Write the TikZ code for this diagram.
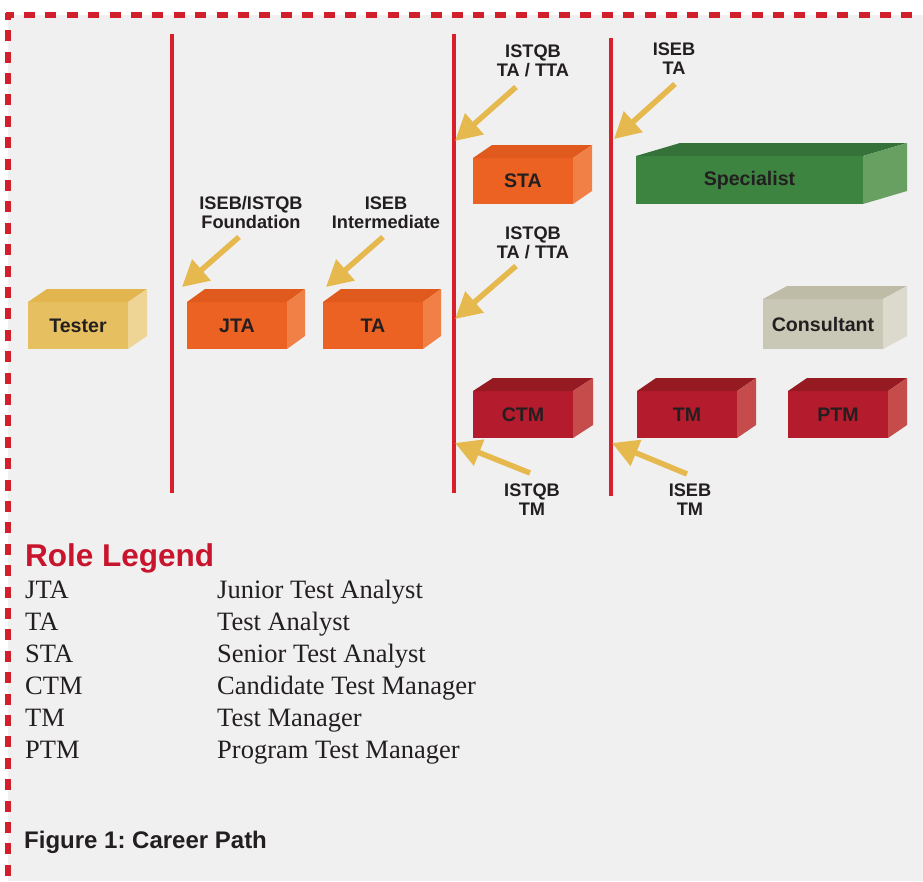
\documentclass[tikz,border=0pt]{standalone}
\usepackage{fontspec}
\setmainfont{Liberation Serif}
\newfontfamily\hvfont{Liberation Sans}
\usetikzlibrary{arrows.meta}
\frenchspacing
\definecolor{bgc}{HTML}{F0F0F0}
\definecolor{txt}{HTML}{231F20}
\definecolor{bordc}{HTML}{D11F2B}
\definecolor{linec}{HTML}{D9202A}
\definecolor{arrowc}{HTML}{E6B94F}
\definecolor{titlec}{HTML}{C8142C}
\definecolor{yelF}{HTML}{E6C060}
\definecolor{yelT}{HTML}{E2B54F}
\definecolor{yelS}{HTML}{EED495}
\definecolor{orgF}{HTML}{EC6223}
\definecolor{orgT}{HTML}{E05A1E}
\definecolor{orgS}{HTML}{F08046}
\definecolor{grnF}{HTML}{3D8441}
\definecolor{grnT}{HTML}{347239}
\definecolor{grnS}{HTML}{68A062}
\definecolor{gryF}{HTML}{C9C7B5}
\definecolor{gryT}{HTML}{BEBBA6}
\definecolor{gryS}{HTML}{DBDACC}
\definecolor{redF}{HTML}{B41B2C}
\definecolor{redT}{HTML}{961A21}
\definecolor{redS}{HTML}{C54C4B}
\tikzset{
  facebox/.style={inner sep=0pt, outer sep=0pt, anchor=north west, text=txt,
    font=\hvfont\bfseries\fontsize{19.6}{21}\selectfont},
  lbl/.style={inner sep=0pt, align=center, text=txt,
    font=\hvfont\bfseries\fontsize{18.2}{19.5}\selectfont},
  redline/.style={draw=linec, line width=4.5pt},
  yarrow/.style={draw=arrowc, line width=5.5pt, -{Triangle[length=26pt,width=27pt]}},
  border/.style={draw=bordc, line width=5.5pt, dash pattern=on 11pt off 10.4pt},
  legabbr/.style={inner sep=0pt, anchor=base west, text=txt, font=\fontsize{26.5}{30}\selectfont},
}
\newcommand{\rolebox}[8]{%
  \node[facebox, fill=#7F, minimum width=#4pt, minimum height=#5pt] (#1) at (#2,#3) {#8};
  \fill[#7T] (#1.north west) -- ++(#6,-13) -- ++(#4,0) -- (#1.north east) -- cycle;
  \fill[#7S] (#1.north east) -- ++(#6,-13) -- ++(0,#5) -- (#1.south east) -- cycle;
}
\begin{document}
\begin{tikzpicture}[x=1pt,y=-1pt]
\useasboundingbox (0,0) rectangle (923,881);
\fill[white] (0,0) rectangle (923,881);
\fill[bgc] (8,15) rectangle (923,881);
\draw[border, dash phase=3.4pt] (6,15) -- (923,15);
\draw[border, dash phase=4.3pt] (8,13) -- (8,881);

% vertical red lines
\coordinate (v1t) at (172,34); \coordinate (v1b) at (172,493);
\coordinate (v2t) at (454,34); \coordinate (v2b) at (454,493);
\coordinate (v3t) at (611,38); \coordinate (v3b) at (611,496);
\draw[redline] (v1t) -- (v1b);
\draw[redline] (v2t) -- (v2b);
\draw[redline] (v3t) -- (v3b);

% boxes
\rolebox{tester}{28}{302}{100}{47}{19}{yel}{Tester}
\rolebox{jta}{187}{302}{100}{47}{18}{org}{JTA}
\rolebox{ta}{323}{302}{100}{47}{18}{org}{TA}
\rolebox{sta}{473}{158}{100}{46}{19}{org}{STA}
\rolebox{spec}{636}{156}{227}{48}{44}{grn}{Specialist}
\rolebox{cons}{763}{299}{120}{50}{24}{gry}{Consultant}
\rolebox{ctm}{473}{391}{100}{47}{20}{red}{CTM}
\rolebox{tm}{637}{391}{100}{47}{19}{red}{TM}
\rolebox{ptm}{788}{391}{100}{47}{19}{red}{PTM}

% labels
\node[lbl] (lfound) at (251,212.5) {ISEB/ISTQB\\Foundation};
\node[lbl] (linter) at (386,212.5) {ISEB\\Intermediate};
\node[lbl] (listqa) at (533,61) {ISTQB\\TA / TTA};
\node[lbl] (lisebta) at (674,58.5) {ISEB\\TA};
\node[lbl] (listqb) at (533,243) {ISTQB\\TA / TTA};
\node[lbl] (listm) at (532,499.5) {ISTQB\\TM};
\node[lbl] (lisebtm) at (690,499.5) {ISEB\\TM};

% arrows
\coordinate (a1s) at (239,237); \coordinate (a1e) at (182,287);
\coordinate (a2s) at (383,237); \coordinate (a2e) at (326,287);
\coordinate (a3s) at (516,87);  \coordinate (a3e) at (455,141);
\coordinate (a4s) at (675,84);  \coordinate (a4e) at (614,139);
\coordinate (a5s) at (516,266); \coordinate (a5e) at (455,319);
\coordinate (a6s) at (530,473); \coordinate (a6e) at (455,443);
\coordinate (a7s) at (687,474); \coordinate (a7e) at (612,443);
\draw[yarrow] (a1s) -- (a1e);
\draw[yarrow] (a2s) -- (a2e);
\draw[yarrow] (a3s) -- (a3e);
\draw[yarrow] (a4s) -- (a4e);
\draw[yarrow] (a5s) -- (a5e);
\draw[yarrow] (a6s) -- (a6e);
\draw[yarrow] (a7s) -- (a7e);

% legend
\node[inner sep=0pt, anchor=base west, text=titlec, font=\hvfont\bfseries\fontsize{31.5}{34}\selectfont] (legtitle) at (25,566) {Role Legend};
\node[legabbr] (k1) at (25,598) {JTA};
\node[legabbr] (k2) at (25,630) {TA};
\node[legabbr] (k3) at (25,662) {STA};
\node[legabbr] (k4) at (25,694) {CTM};
\node[legabbr] (k5) at (25,726) {TM};
\node[legabbr] (k6) at (25,758) {PTM};
\node[legabbr] (d1) at (217,598) {Junior Test Analyst};
\node[legabbr] (d2) at (217,630) {Test Analyst};
\node[legabbr] (d3) at (217,662) {Senior Test Analyst};
\node[legabbr] (d4) at (217,694) {Candidate Test Manager};
\node[legabbr] (d5) at (217,726) {Test Manager};
\node[legabbr] (d6) at (217,758) {Program Test Manager};

\node[inner sep=0pt, anchor=base west, text=txt, font=\hvfont\bfseries\fontsize{24}{28}\selectfont] (caption) at (24,848) {Figure 1: Career Path};
\end{tikzpicture}
\end{document}
